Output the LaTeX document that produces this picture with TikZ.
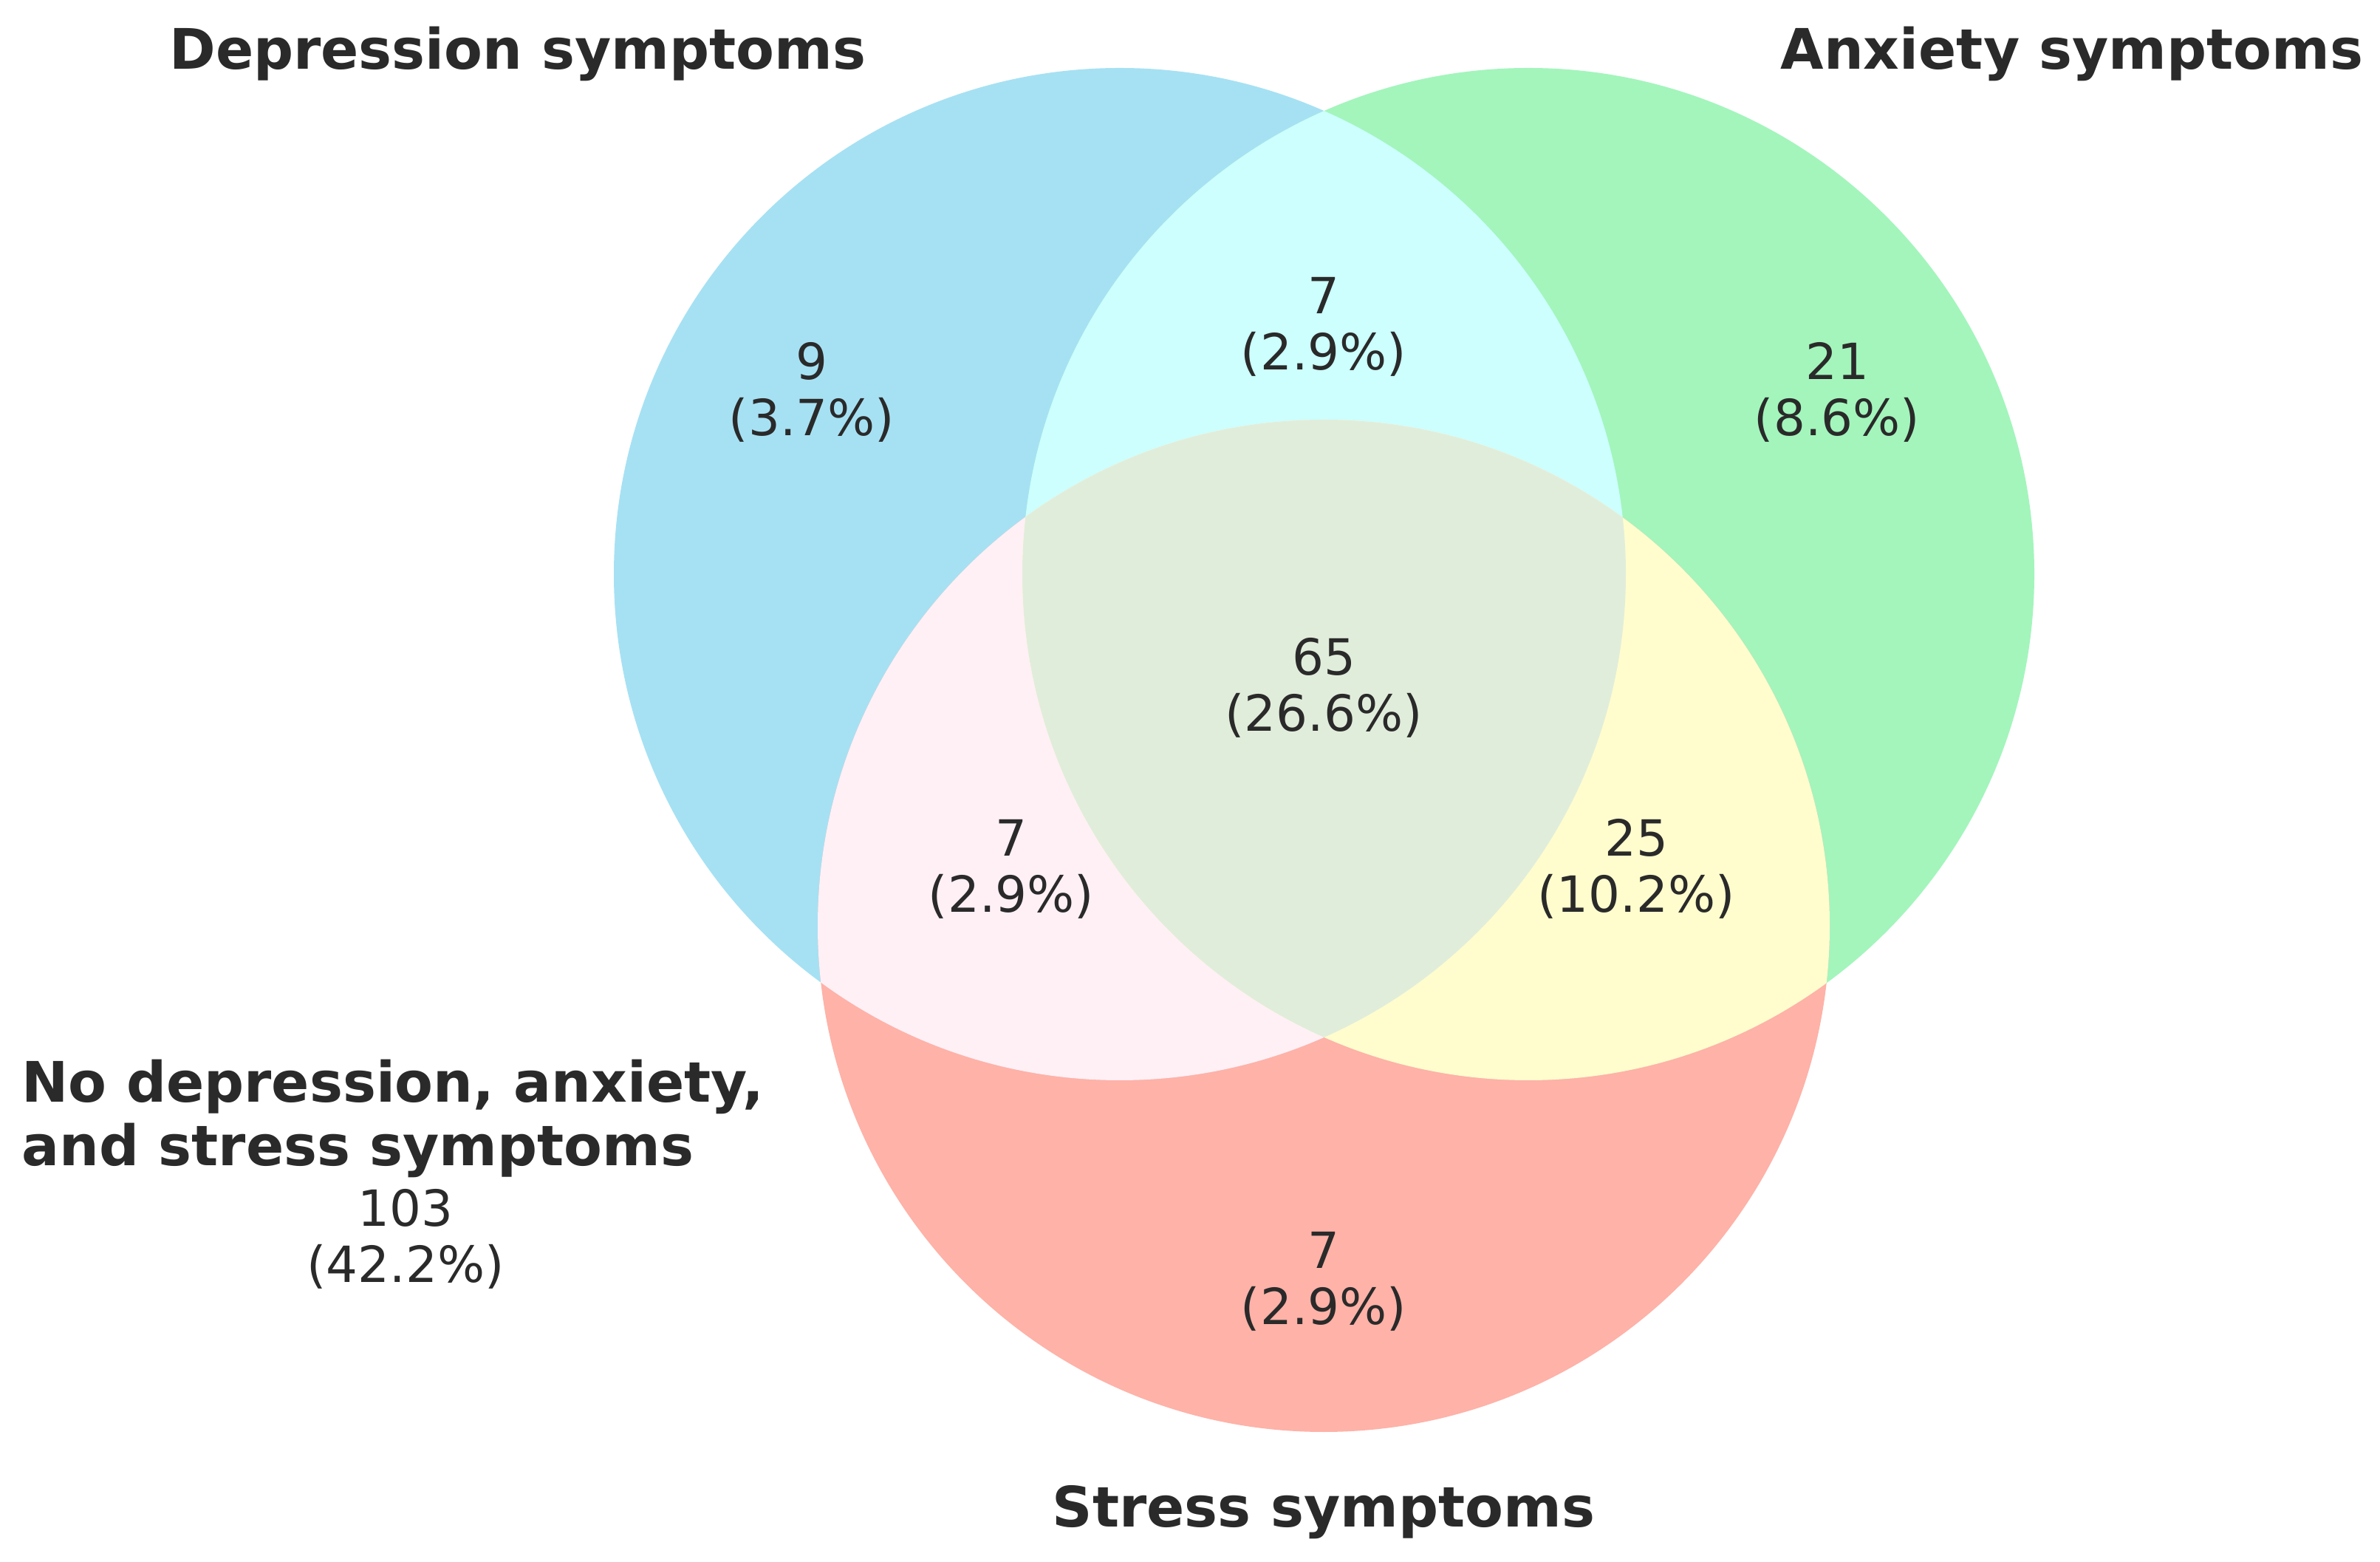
\documentclass[tikz,border=0pt]{standalone}
\usepackage{fontspec}
\setmainfont{DejaVu Sans}
\definecolor{txt}{HTML}{2A2A2A}
\definecolor{cDo}{HTML}{A6E1F3}
\definecolor{cAo}{HTML}{A3F5BC}
\definecolor{cSo}{HTML}{FEB2A8}
\definecolor{cDA}{HTML}{CCFFFE}
\definecolor{cDS}{HTML}{FFF0F6}
\definecolor{cAS}{HTML}{FFFDCD}
\definecolor{cDAS}{HTML}{E1EDDB}
\tikzset{
  setlabel/.style={text=txt, font=\bfseries\fontsize{21.5}{24.5}\selectfont, inner sep=0pt},
  count/.style={text=txt, font=\fontsize{19.2}{21.6}\selectfont, align=center, inner sep=0pt},
}
\begin{document}
\begin{tikzpicture}
\useasboundingbox (0,0) rectangle (32.22,21.13);
\def\rr{6.85}
\coordinate (cD) at (15.16,13.36);
\coordinate (cA) at (20.69,13.36);
\coordinate (cS) at (17.92,8.60);
% single circles
\fill[cDo] (cD) circle (\rr);
\fill[cAo] (cA) circle (\rr);
\fill[cSo] (cS) circle (\rr);
% pairwise
\begin{scope}
  \clip (cD) circle (\rr);
  \fill[cDA] (cA) circle (\rr);
  \fill[cDS] (cS) circle (\rr);
\end{scope}
\begin{scope}
  \clip (cA) circle (\rr);
  \fill[cAS] (cS) circle (\rr);
\end{scope}
\begin{scope}
  \clip (cD) circle (\rr);
  \clip (cA) circle (\rr);
  \fill[cDAS] (cS) circle (\rr);
\end{scope}
% set labels
\node[setlabel] (lD) at (7.01,20.40) {Depression symptoms};
\node[setlabel] (lA) at (28.05,20.40) {Anxiety symptoms};
\node[setlabel] (lS) at (17.92,0.66) {Stress symptoms};
\node[setlabel, align=left, anchor=west] (lN) at (0.29,5.99) {No depression, anxiety,\\and stress symptoms};
% counts
\node[count] (nD) at (10.99,15.82) {9\\(3.7\%)};
\node[count] (nDA) at (17.92,16.71) {7\\(2.9\%)};
\node[count] (nA) at (24.87,15.82) {21\\(8.6\%)};
\node[count] (nDAS) at (17.92,11.82) {65\\(26.6\%)};
\node[count] (nDS) at (13.69,9.37) {7\\(2.9\%)};
\node[count] (nAS) at (22.15,9.37) {25\\(10.2\%)};
\node[count] (nS) at (17.92,3.79) {7\\(2.9\%)};
\node[count] (nN) at (5.49,4.36) {103\\(42.2\%)};
\end{tikzpicture}
\end{document}
